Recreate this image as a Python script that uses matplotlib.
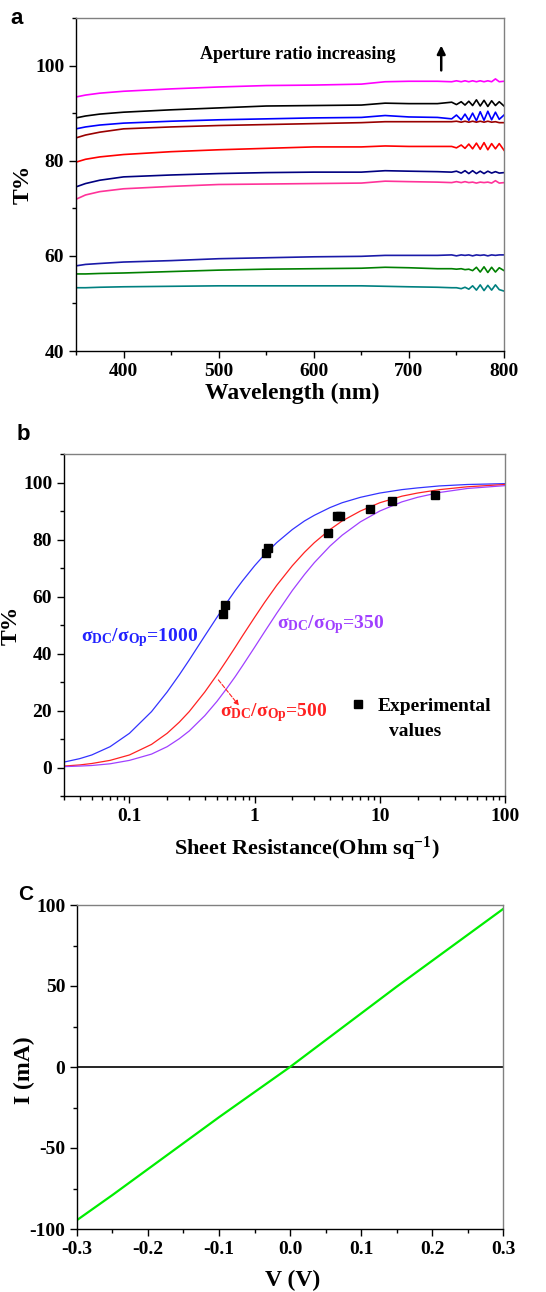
import numpy as np
import matplotlib
matplotlib.use("Agg")
from matplotlib import pyplot as plt
from matplotlib.ticker import MultipleLocator, LogLocator, FixedLocator, NullFormatter, FormatStrFormatter

plt.rcParams['font.family'] = ['Liberation Serif', 'DejaVu Serif']
plt.rcParams['font.weight'] = 'bold'
plt.rcParams['mathtext.fontset'] = 'custom'
plt.rcParams['mathtext.rm'] = 'Liberation Serif:bold'
plt.rcParams['mathtext.it'] = 'Liberation Serif:bold'
plt.rcParams['mathtext.bf'] = 'Liberation Serif:bold'
plt.rcParams['mathtext.default'] = 'rm'
plt.rcParams['axes.unicode_minus'] = False

# ---- panel a: transmittance spectra ----
wavelength = [350, 360, 375, 400, 450, 500, 550, 600, 650, 675, 700, 730,
              745, 750, 755, 759, 763, 767, 771, 775, 779, 783, 787, 791, 795, 800]
t_magenta = [93.4, 93.8, 94.2, 94.6, 95.1, 95.5, 95.8, 95.9, 96.1, 96.6, 96.7, 96.7,
             96.6, 96.8, 96.6, 96.8, 96.6, 96.8, 96.6, 96.8, 96.6, 96.8, 96.6, 97.2, 96.6, 96.7]
t_black = [89.0, 89.4, 89.8, 90.2, 90.7, 91.1, 91.5, 91.6, 91.7, 92.1, 92.0, 92.0,
           92.3, 91.8, 92.4, 91.7, 92.5, 91.6, 92.8, 91.5, 92.7, 91.4, 92.6, 91.6, 92.4, 91.5]
t_blue = [86.7, 87.1, 87.5, 87.9, 88.3, 88.6, 88.8, 89.0, 89.1, 89.5, 89.2, 89.1,
          88.8, 89.6, 88.6, 89.8, 88.5, 90.0, 88.4, 90.3, 88.5, 90.4, 88.6, 90.2, 88.7, 89.6]
t_darkred = [84.8, 85.4, 86.0, 86.7, 87.1, 87.4, 87.6, 87.8, 88.0, 88.2, 88.2, 88.2,
             88.2, 88.3, 88.1, 88.3, 88.1, 88.3, 88.1, 88.3, 88.1, 88.3, 88.1, 88.2, 88.0, 88.0]
t_red = [79.7, 80.3, 80.8, 81.3, 81.9, 82.3, 82.6, 82.9, 82.9, 83.1, 83.0, 83.0,
         83.0, 82.7, 83.3, 82.6, 83.5, 82.5, 83.7, 82.4, 83.8, 82.3, 83.6, 82.5, 83.6, 82.2]
t_navy = [74.5, 75.2, 75.9, 76.6, 77.0, 77.3, 77.5, 77.6, 77.6, 77.9, 77.8, 77.7,
          77.6, 77.8, 77.4, 77.9, 77.3, 77.9, 77.3, 77.8, 77.3, 77.8, 77.4, 77.7, 77.4, 77.5]
t_pink = [71.9, 72.8, 73.5, 74.1, 74.6, 75.0, 75.1, 75.2, 75.3, 75.7, 75.6, 75.5,
          75.4, 75.6, 75.4, 75.6, 75.4, 75.5, 75.3, 75.5, 75.4, 75.5, 75.3, 75.8, 75.3, 75.4]
t_dblue = [57.9, 58.2, 58.4, 58.7, 59.0, 59.4, 59.6, 59.8, 59.9, 60.1, 60.1, 60.1,
           60.2, 60.0, 60.2, 60.1, 60.2, 60.0, 60.2, 60.1, 60.2, 60.0, 60.2, 60.1, 60.2, 60.2]
t_green = [56.2, 56.2, 56.3, 56.4, 56.7, 57.0, 57.2, 57.3, 57.4, 57.6, 57.5, 57.3,
           57.3, 57.2, 57.3, 57.1, 57.2, 56.9, 57.6, 56.6, 57.7, 56.5, 57.6, 56.6, 57.5, 56.9]
t_teal = [53.3, 53.3, 53.4, 53.5, 53.6, 53.7, 53.7, 53.7, 53.7, 53.6, 53.5, 53.4,
          53.3, 53.3, 53.1, 53.4, 53.0, 53.7, 52.8, 53.9, 52.7, 53.8, 52.8, 53.9, 52.9, 52.6]
spectra = [t_magenta, t_black, t_blue, t_darkred, t_red, t_navy, t_pink, t_dblue, t_green, t_teal]
spectra_colors = ['#ff00ff', '#000000', '#0000ff', '#990000', '#ff0000',
                  '#000080', '#ff3399', '#1a1aa8', '#008000', '#008080']

# ---- panel b: T vs sheet resistance ----
rs = [0.03, 0.04, 0.05, 0.07, 0.1, 0.15, 0.2, 0.25, 0.3, 0.4, 0.5, 0.6, 0.7, 0.8, 1,
      1.2, 1.5, 2, 2.5, 3, 4, 5, 7, 10, 15, 20, 30, 50, 100]
t_1000 = [1.9, 3.1, 4.4, 7.3, 12.0, 19.6, 26.5, 32.5, 37.7, 46.2, 52.7, 57.9, 62.1, 65.5, 70.8,
          74.7, 78.9, 83.5, 86.5, 88.5, 91.2, 92.9, 94.8, 96.3, 97.5, 98.1, 98.8, 99.3, 99.6]
t_500 = [0.5, 0.9, 1.4, 2.5, 4.4, 8.1, 12.0, 15.9, 19.6, 26.5, 32.5, 37.7, 42.2, 46.2, 52.7,
         57.9, 63.9, 70.8, 75.5, 78.9, 83.5, 86.5, 90.0, 92.9, 95.2, 96.3, 97.5, 98.5, 99.3]
t_350 = [0.3, 0.5, 0.7, 1.3, 2.5, 4.7, 7.3, 10.1, 12.8, 18.2, 23.2, 27.8, 31.9, 35.7, 42.2,
         47.6, 54.1, 62.1, 67.7, 71.9, 77.7, 81.5, 86.2, 90.0, 93.2, 94.8, 96.5, 97.9, 98.9]
rs_exp = [0.555, 0.575, 1.24, 1.28, 3.86, 4.55, 4.85, 8.3, 12.4, 27.5]
t_exp = [53.8, 57.0, 75.1, 77.0, 82.3, 88.2, 88.2, 90.8, 93.4, 95.5]

# ---- panel c: I-V ----
volt = [-0.3, -0.25, -0.2, -0.15, -0.1, -0.05, 0, 0.05, 0.1, 0.15, 0.2, 0.25, 0.3]
current = [-94.5, -79, -63, -47, -31, -15.5, 0, 16.5, 33, 49.5, 65.5, 81.5, 97.5]

W, H = 546, 1292
fig = plt.figure(figsize=(W / 100, H / 100), dpi=100)


def box(l, t, r, b):
    return [l / W, 1 - b / H, (r - l) / W, (b - t) / H]


def style(ax, fs=14):
    for s in ['top', 'right']:
        ax.spines[s].set_color('#808080')
    for s in ax.spines.values():
        s.set_linewidth(1.0)
    ax.tick_params(which='both', direction='out', top=False, right=False, labelsize=fs)
    ax.tick_params(which='major', length=5, width=1)
    ax.tick_params(which='minor', length=3, width=1)


# panel a
ax1 = fig.add_axes(box(76, 18, 504, 351))
for vals, col in zip(spectra, spectra_colors):
    ax1.plot(wavelength, vals, color=col, lw=1.2)
ax1.set_xlim(350, 800)
ax1.set_ylim(40, 110)
ax1.xaxis.set_major_locator(MultipleLocator(100))
ax1.xaxis.set_minor_locator(MultipleLocator(50))
ax1.yaxis.set_major_locator(FixedLocator([40, 60, 80, 100]))
ax1.yaxis.set_minor_locator(MultipleLocator(10))
style(ax1)
ax1.set_xlabel('Wavelength (nm)', fontsize=17, fontweight='bold')
ax1.set_ylabel('T%', fontsize=17, fontweight='bold')
ax1.xaxis.set_label_coords(0.505, -0.096)
ax1.yaxis.set_label_coords(-0.10, 0.5)
ax1.text(480, 102.3, 'Aperture ratio increasing', fontsize=13, fontweight='bold', va='center')
ax1.annotate('', xy=(734, 104.8), xytext=(734, 98.4),
             arrowprops=dict(arrowstyle='-|>', color='black', lw=1.8, mutation_scale=12))
fig.text(10 / W, 1 - 19 / H, 'a', family='Liberation Sans', fontsize=16, fontweight='bold', va='center')

# panel b
ax2 = fig.add_axes(box(64, 454, 505, 796))
ax2.semilogx(rs, t_1000, color='#3333ff', lw=0.9)
ax2.semilogx(rs, t_500, color='#ff2222', lw=0.9)
ax2.semilogx(rs, t_350, color='#a040ff', lw=0.9)
ax2.plot(rs_exp, t_exp, 's', color='black', ms=6, label='Experimental')
ax2.set_xlim(0.03, 100)
ax2.set_ylim(-10, 110)
ax2.xaxis.set_minor_locator(LogLocator(base=10, subs=np.arange(2, 10), numticks=20))
ax2.xaxis.set_minor_formatter(NullFormatter())
ax2.set_xticks([0.1, 1, 10, 100])
ax2.set_xticklabels(['0.1', '1', '10', '100'])
ax2.yaxis.set_major_locator(MultipleLocator(20))
ax2.yaxis.set_minor_locator(MultipleLocator(10))
style(ax2)
ax2.set_xlabel('Sheet Resistance(Ohm sq$^{-1}$)', fontsize=16, fontweight='bold')
ax2.set_ylabel('T%', fontsize=17, fontweight='bold')
ax2.xaxis.set_label_coords(0.551, -0.114)
ax2.yaxis.set_label_coords(-0.095, 0.5)
ax2.text(0.0413, 45.5, r'$\sigma_{DC}/\sigma_{Op}$=1000', color='#2222ff', fontsize=14, va='center')
ax2.text(1.5, 50, r'$\sigma_{DC}/\sigma_{Op}$=350', color='#a040ff', fontsize=14, va='center')
ax2.text(0.525, 19.2, r'$\sigma_{DC}/\sigma_{Op}$=500', color='#ff2222', fontsize=14, va='center')
ax2.annotate('', xy=(0.773, 21), xytext=(0.497, 31.5),
             arrowprops=dict(arrowstyle='-|>', color='#ff2222', lw=0.8, ls='--', mutation_scale=7))
ax2.legend(loc='center left', bbox_to_anchor=(0.65, 0.263), frameon=False, fontsize=14,
           handlelength=0.8, handletextpad=0.6, borderpad=0, borderaxespad=0)
ax2.text(0.796, 0.19, 'values', transform=ax2.transAxes, fontsize=14, ha='center', va='center')
fig.text(17 / W, 1 - 435 / H, 'b', family='Liberation Sans', fontsize=16, fontweight='bold', va='center')

# panel c
ax3 = fig.add_axes(box(77, 905, 503, 1229))
ax3.axhline(0, color='black', lw=1.2)
ax3.plot(volt, current, color='#00ee00', lw=1.6)
ax3.set_xlim(-0.3, 0.3)
ax3.set_ylim(-100, 100)
ax3.xaxis.set_major_locator(MultipleLocator(0.1))
ax3.xaxis.set_minor_locator(MultipleLocator(0.05))
ax3.yaxis.set_major_locator(MultipleLocator(50))
ax3.yaxis.set_minor_locator(MultipleLocator(25))
ax3.xaxis.set_major_formatter(FormatStrFormatter('%.1f'))
style(ax3, fs=14)
ax3.set_xlabel('V (V)', fontsize=17, fontweight='bold')
ax3.set_ylabel('I (mA)', fontsize=17, fontweight='bold')
ax3.xaxis.set_label_coords(0.505, -0.127)
ax3.yaxis.set_label_coords(-0.099, 0.49)
fig.text(18 / W, 1 - 894 / H, 'C', family='Liberation Sans', fontsize=15, va='center')

fig.savefig('out.png', dpi=100)
